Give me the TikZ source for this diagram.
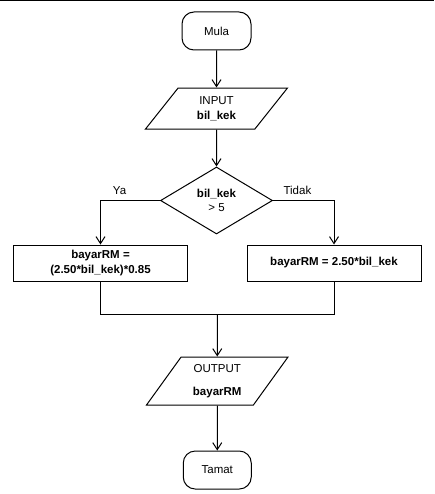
\documentclass[tikz,border=0pt]{standalone}
\usepackage{fontspec}
\setmainfont{Liberation Sans}
\usetikzlibrary{arrows.meta,positioning,shapes.geometric,calc}

\begin{document}
\begin{tikzpicture}[
      font=\fontsize{11.5}{14.5}\selectfont,
      line width=1pt,
      term/.style={draw, rounded corners=12pt, align=center,
                   minimum width=69pt, minimum height=38pt},
      io/.style={draw, trapezium, trapezium left angle=56,
                 trapezium right angle=124, trapezium stretches=true,
                 align=center, minimum width=143pt, inner sep=1pt},
      keputusan/.style={draw, diamond, aspect=1.67, align=center,
                        minimum width=112pt, minimum height=67pt, inner sep=0pt},
      proses/.style={draw, align=center, minimum width=174pt,
                     minimum height=36pt, inner sep=2pt},
      lbl/.style={inner sep=1pt},
      arr/.style={-{Straight Barb[length=7pt,width=9pt]}}
    ]
    \useasboundingbox (0,0) rectangle (434pt,-494pt);
    \draw[line width=1.5pt] (0,-0.75pt) -- (434pt,-0.75pt);

    % ---- main column ----
    \node[term] (mula) at (216.5pt,-31pt) {Mula};
    \node[io, minimum height=41pt, below=37pt of mula] (input)
      {INPUT\\ \textbf{bil\_kek}};
    \node[keputusan, below=37pt of input] (semak)
      {\textbf{bil\_kek}\\ > 5};

    % ---- branches ----
    \node[proses, below=10pt of semak, xshift=-116pt] (kiri)
      {\textbf{bayarRM =}\\ \textbf{(2.50*bil\_kek)*0.85}};
    \node[proses, below=10pt of semak, xshift=117.5pt] (kanan)
      {\textbf{bayarRM = 2.50*bil\_kek}};
    \coordinate (gabung) at ($(kiri.south)!0.5!(kanan.south)+(0,-33pt)$);

    % ---- output ----
    \node[io, minimum height=48pt, below=42pt of gabung] (output)
      {OUTPUT\\[9pt] \textbf{bayarRM}};
    \node[term, minimum width=68pt, below=45pt of output] (tamat) {Tamat};

    \draw[arr] (mula) -- (input);
    \draw[arr] (input) -- (semak);
    \draw[arr] (semak.west) -| node[lbl, pos=0.34, above=4pt] {Ya} (kiri.north);
    \draw[arr] (semak.east) -| node[lbl, pos=0.2, above=4pt] {Tidak} (kanan.north);
    \draw (kiri.south) |- (gabung) -| (kanan.south);
    \draw[arr] (gabung) -- (output);
    \draw[arr] (output) -- (tamat);
  \end{tikzpicture}
\end{document}
